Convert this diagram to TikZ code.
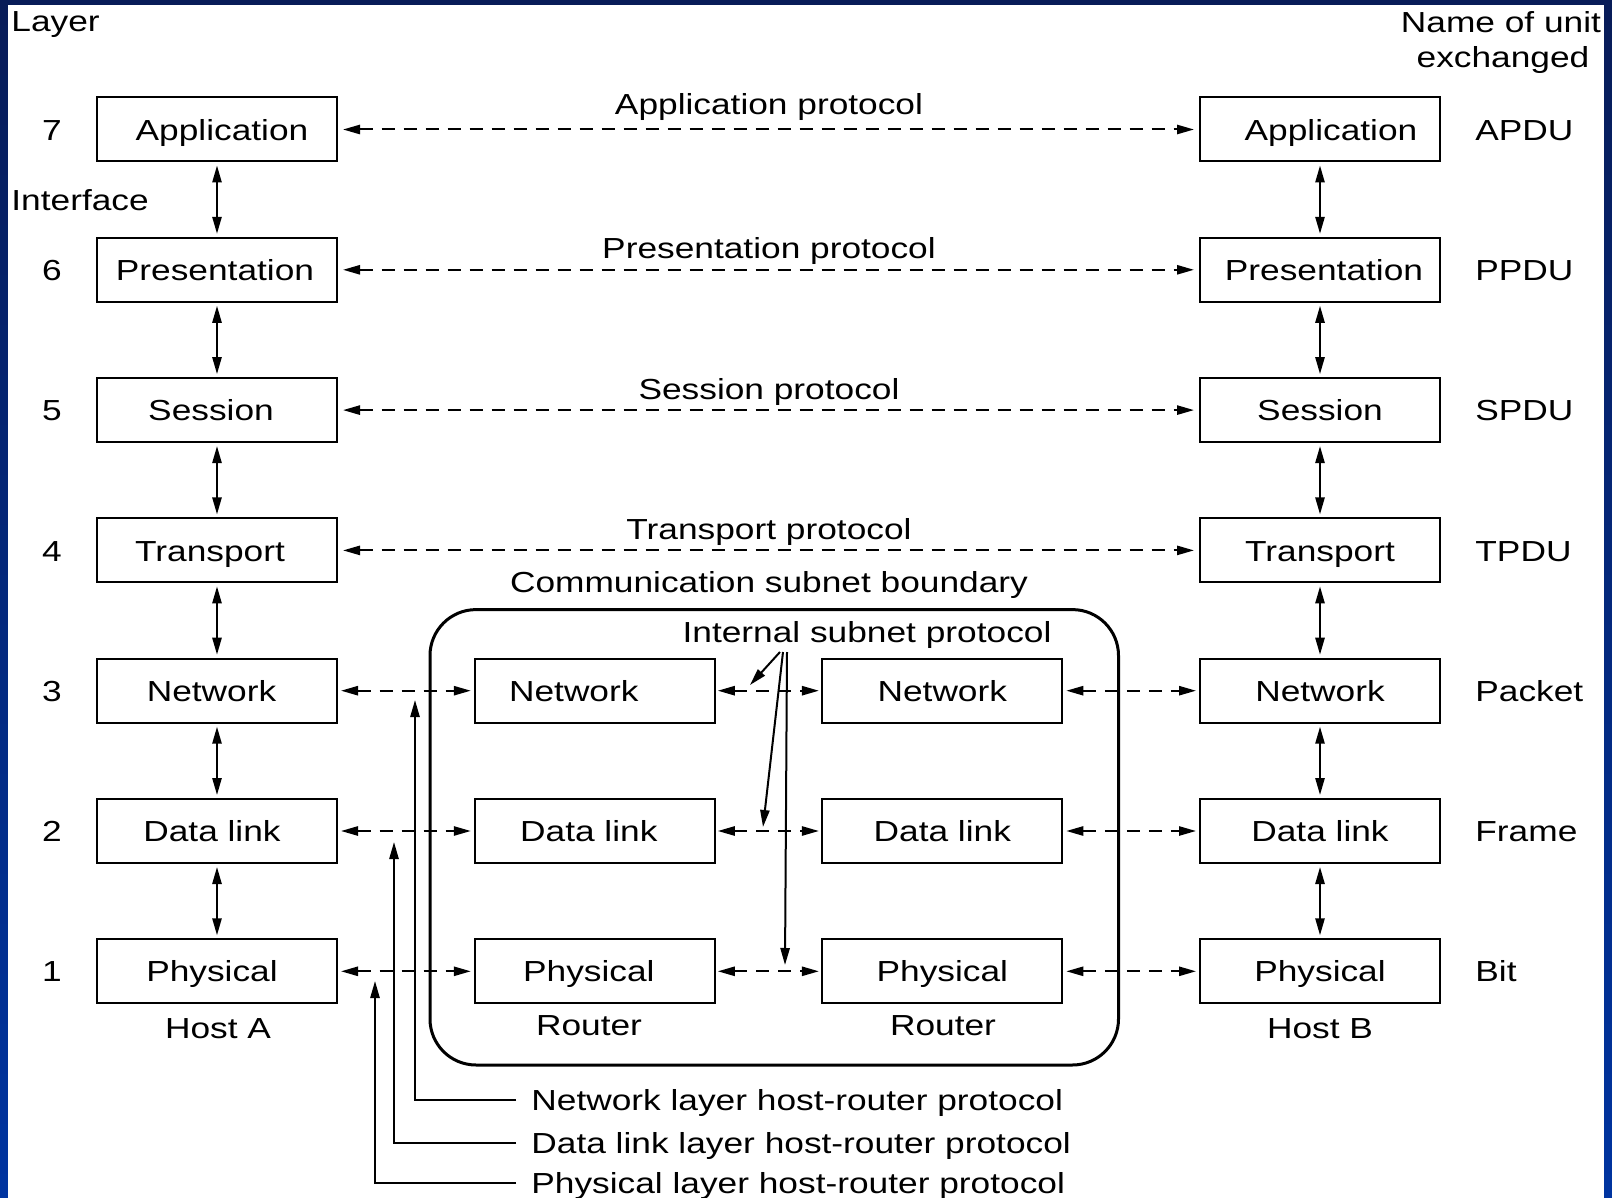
\documentclass[tikz,border=0pt]{standalone}
\usepackage{fontspec}
\setmainfont[FakeStretch=1.217]{Liberation Sans}
\usetikzlibrary{arrows.meta}
\newcommand\shiftby[2]{\kern#1\relax#2\kern-#1\relax}
\begin{document}
\begin{tikzpicture}[x=0.5pt,y=-0.5pt,
  >={Triangle[length=8.5pt,width=4.6pt]},
  font=\fontsize{14.5pt}{17pt}\selectfont,
  box/.style={draw,line width=1pt,minimum width=120pt,minimum height=32pt,inner sep=0pt,text height=10.6pt,text depth=0pt},
  lbl/.style={inner sep=0pt,text height=10.6pt,text depth=0pt},
  dsh/.style={line width=1pt,dash pattern=on 6.5pt off 4.5pt,<->},
  ifc/.style={line width=1pt,<->,shorten <=1.5pt,shorten >=1.5pt},
  lead/.style={line width=1pt,->}]
% frame
\useasboundingbox (0,0) rectangle (1612,1198);
\fill[top color={rgb,255:red,8;green,28;blue,88},bottom color={rgb,255:red,0;green,52;blue,160}] (0,0) rectangle (1612,1198);
\fill[white] (8,5) rectangle (1604,1198);
% subnet boundary
\node[draw,line width=1.5pt,rounded corners=23pt,minimum width=344.25pt,minimum height=227.7pt,inner sep=0pt] (subnet) at (774.25,837.3) {};
% header labels
\node[lbl,anchor=west] (layer) at (11,21) {Layer};
\node[lbl,anchor=west] (iface) at (11,200) {Interface};
\node[lbl] (nameunit) at (1501,22) {Name of unit};
\node[lbl] (exch) at (1503,57) {exchanged};
% host A
\node[box] (a7) at (217,129.5) {\shiftby{2.5pt}{Application}};
\node[box] (a6) at (217,269.8) {\shiftby{-1pt}{Presentation}};
\node[box] (a5) at (217,410.1) {\shiftby{-3pt}{Session}};
\node[box] (a4) at (217,550.4) {\shiftby{-3.5pt}{Transport}};
\node[box] (a3) at (217,690.7) {\shiftby{-2.75pt}{Network}};
\node[box] (a2) at (217,831.0) {\shiftby{-2.5pt}{Data link}};
\node[box] (a1) at (217,971.3) {\shiftby{-2.5pt}{Physical}};
% host B
\node[box] (b7) at (1320,129.5) {\shiftby{5.5pt}{Application}};
\node[box] (b6) at (1320,269.8) {\shiftby{2pt}{Presentation}};
\node[box] (b5) at (1320,410.1) {Session};
\node[box] (b4) at (1320,550.4) {Transport};
\node[box] (b3) at (1320,690.7) {Network};
\node[box] (b2) at (1320,831.0) {Data link};
\node[box] (b1) at (1320,971.3) {Physical};
% routers
\node[box] (r3) at (594.8,690.7) {\shiftby{-10.5pt}{Network}};
\node[box] (r2) at (594.8,831.0) {\shiftby{-3pt}{Data link}};
\node[box] (r1) at (594.8,971.3) {\shiftby{-3pt}{Physical}};
\node[box] (s3) at (942.3,690.7) {Network};
\node[box] (s2) at (942.3,831.0) {Data link};
\node[box] (s1) at (942.3,971.3) {Physical};
% layer numbers
\foreach \n/\y in {7/129.5,6/269.8,5/410.1,4/550.4,3/690.7,2/831.0,1/971.3}
  \node[lbl] (num\n) at (52,\y) {\n};
% unit names
\foreach \n/\y/\t in {7/129.5/APDU,6/269.8/PPDU,5/410.1/SPDU,4/550.4/TPDU,3/690.7/Packet,2/831.0/Frame,1/971.3/Bit}
  \node[lbl,anchor=west] (unit\n) at (1475,\y) {\t};
% protocol labels
\node[lbl] (p7) at (769,104) {Application protocol};
\node[lbl] (p6) at (769,248) {Presentation protocol};
\node[lbl] (p5) at (769,389) {Session protocol};
\node[lbl] (p4) at (769,529) {Transport protocol};
\node[lbl] (csb) at (769,582) {Communication subnet boundary};
\node[lbl] (isp) at (867,632) {Internal subnet protocol};
% host/router labels
\node[lbl] (hosta) at (218,1028) {Host A};
\node[lbl] (rta) at (589,1025) {Router};
\node[lbl] (rtb) at (943,1025) {Router};
\node[lbl] (hostb) at (1320,1028) {Host B};
% bottom labels
\node[lbl,anchor=west] (nlp) at (531,1100) {Network layer host-router protocol};
\node[lbl,anchor=west] (dlp) at (531,1143) {Data link layer host-router protocol};
\node[lbl,anchor=west] (plp) at (531,1183) {Physical layer host-router protocol};
% peer protocols
\foreach \i in {7,6,5,4}
  \draw[dsh,shorten <=2.5pt,shorten >=2.5pt] (a\i) -- (b\i);
\foreach \i in {3,2,1}{
  \draw[dsh,shorten <=1.5pt,shorten >=1.5pt] (a\i) -- (r\i);
  \draw[dsh,shorten <=1pt,shorten >=1.2pt] (r\i) -- (s\i);
  \draw[dsh,shorten <=1.5pt,shorten >=1.5pt] (s\i) -- (b\i);
}
% interfaces
\foreach \i/\j in {7/6,6/5,5/4,4/3,3/2,2/1}{
  \draw[ifc] (a\i) -- (a\j);
  \draw[ifc] (b\i) -- (b\j);
}
% internal subnet protocol pointers
\coordinate (i3s) at (780,652); \coordinate (i3e) at (750,685);
\coordinate (i2s) at (783,652); \coordinate (i2e) at (763,827);
\coordinate (i1s) at (787,652); \coordinate (i1e) at (785,965);
\draw[lead] (i3s) -- (i3e);
\draw[lead] (i2s) -- (i2e);
\draw[lead] (i1s) -- (i1e);
% host-router leaders
\coordinate (nt) at (415,700);
\coordinate (dt) at (394,842);
\coordinate (pt) at (375,981);
\draw[lead] ([xshift=-7.5pt]nlp.west) -| (nt);
\draw[lead] ([xshift=-7.5pt]dlp.west) -| (dt);
\draw[lead] ([xshift=-7.5pt]plp.west) -| (pt);
\end{tikzpicture}
\end{document}
